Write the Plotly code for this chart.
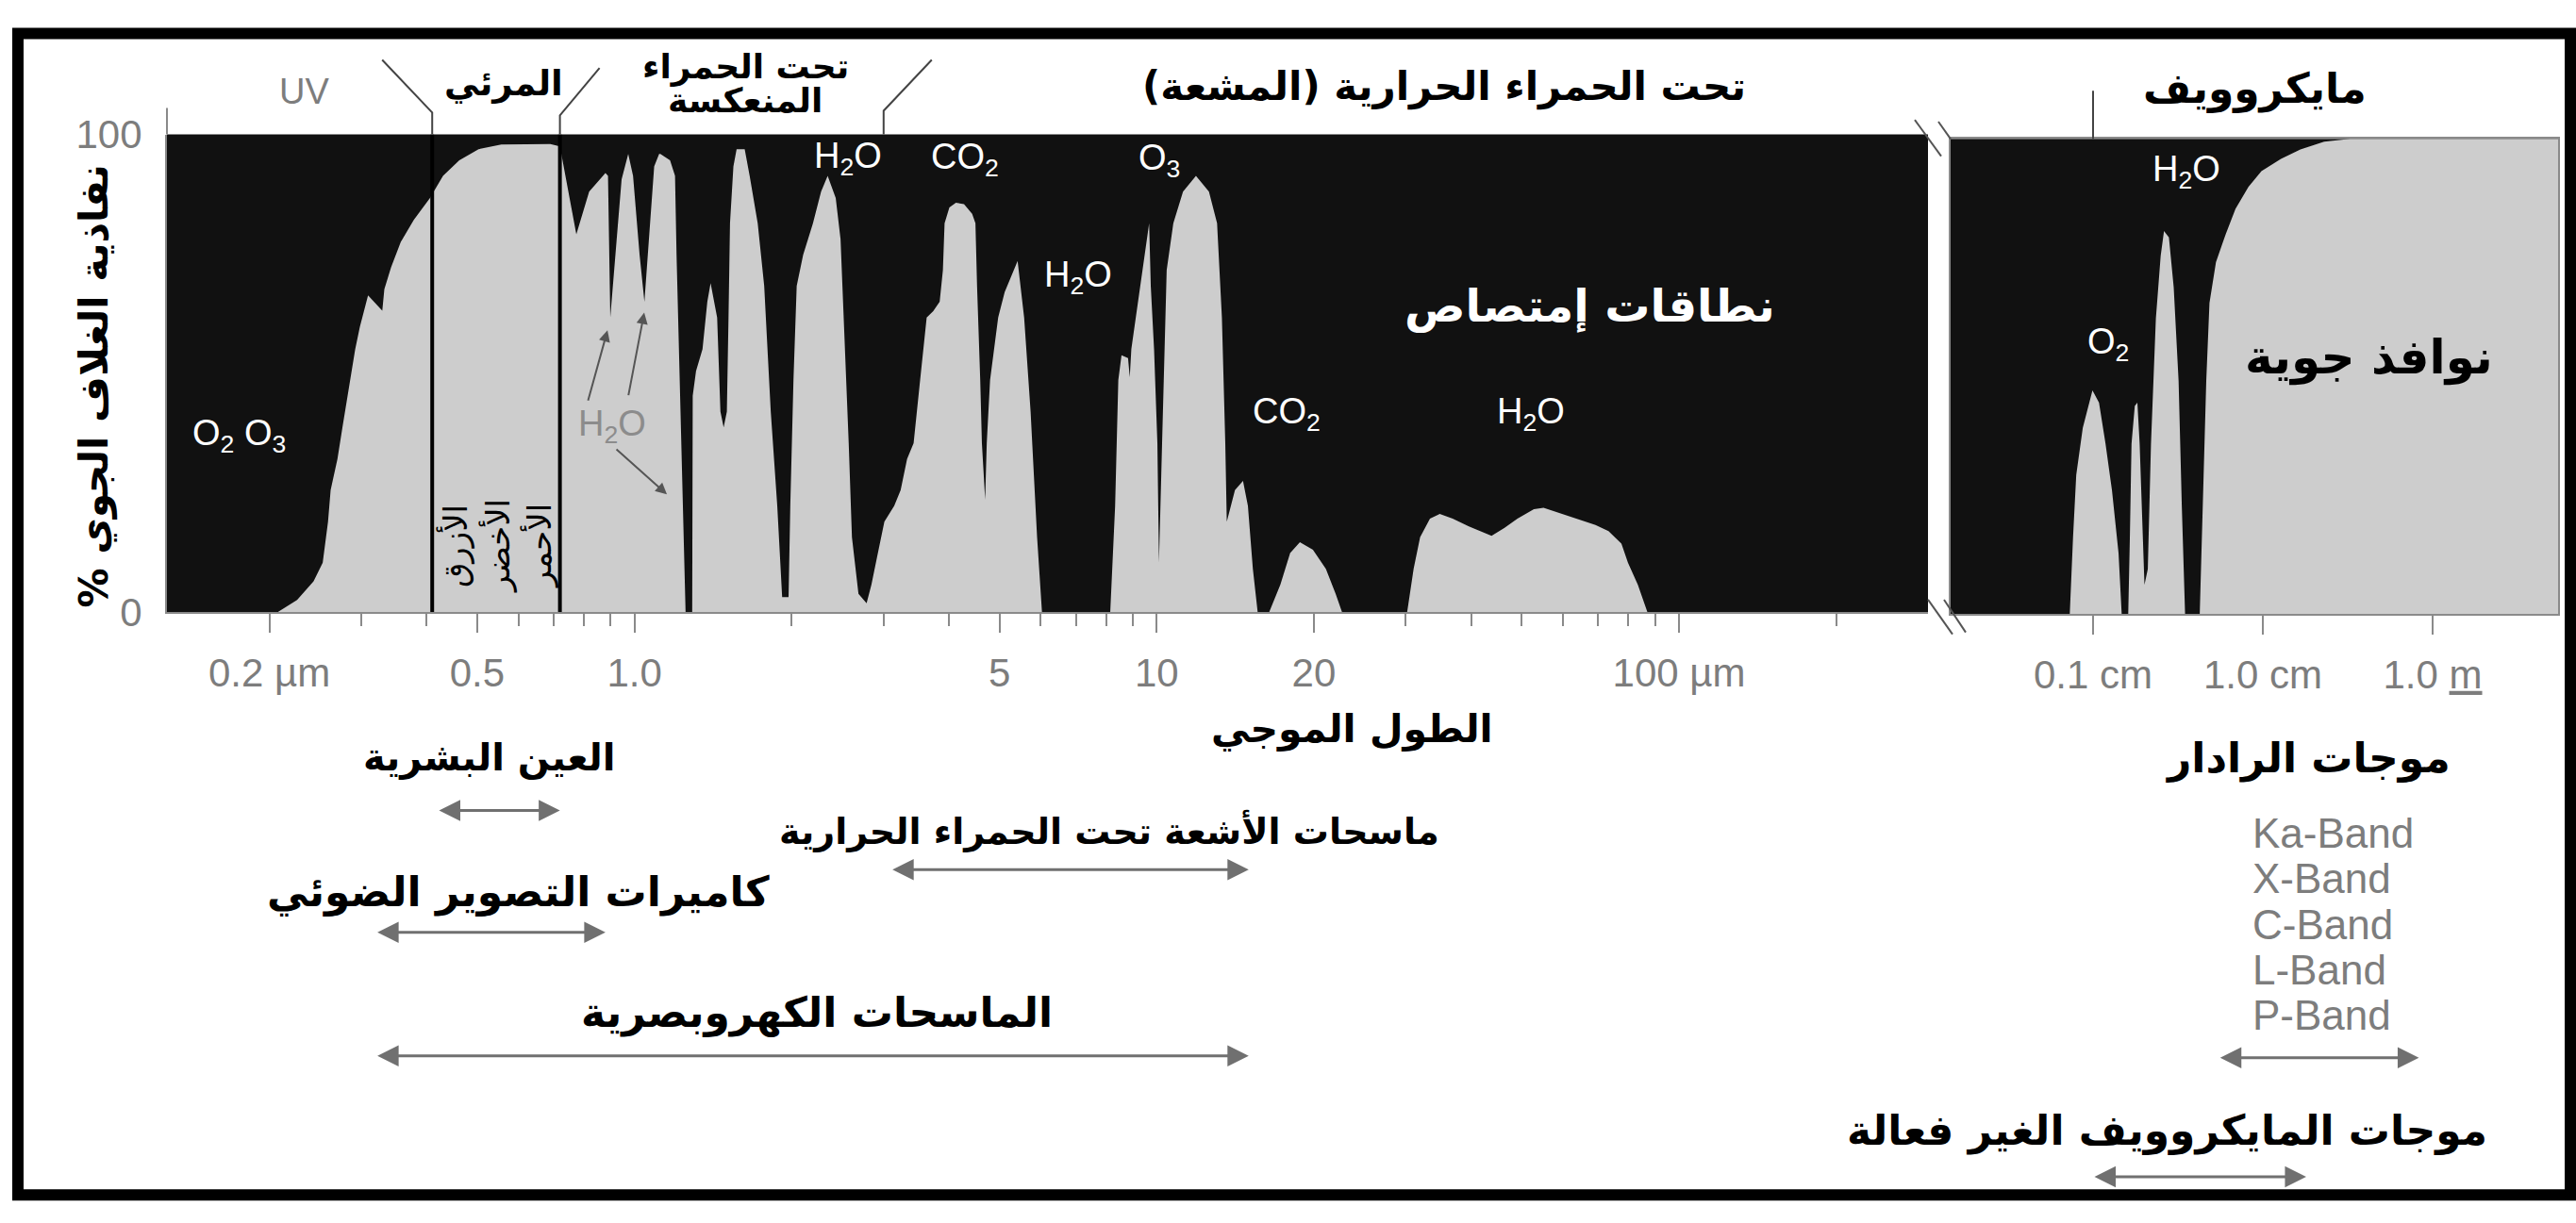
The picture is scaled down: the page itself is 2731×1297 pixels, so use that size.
import math
import plotly.graph_objects as go

W, H = 2731, 1297

# ---------------- data: atmospheric transmission (%) ----------------
# optical / infrared part, wavelength in micrometres
wl_um = [0.127, 0.207, 0.226, 0.243, 0.253, 0.259, 0.262, 0.270, 0.276, 0.282,
         0.292, 0.298, 0.309, 0.329, 0.332, 0.342, 0.357, 0.378, 0.406, 0.430,
         0.462, 0.503, 0.556, 0.690, 0.720,
         0.736, 0.774, 0.819, 0.880, 0.890, 0.899, 0.945, 0.973, 0.994, 1.023,
         1.045, 1.091, 1.115, 1.121, 1.170, 1.196, 1.204, 1.222, 1.239, 1.253,
         1.290, 1.293, 1.312, 1.350, 1.379, 1.399, 1.440, 1.461, 1.482, 1.503,
         1.514, 1.524, 1.547, 1.569, 1.626, 1.662, 1.722, 1.772, 1.824, 1.877,
         1.918, 1.973, 1.988, 2.016, 2.045, 2.104, 2.197, 2.277, 2.344, 2.429,
         2.481, 2.517, 2.572, 2.609, 2.685, 2.783, 2.843, 2.925, 3.010, 3.143,
         3.234, 3.327, 3.424, 3.524, 3.576, 3.627, 3.733, 3.841, 3.896, 3.925,
         4.009, 4.126, 4.276, 4.432, 4.497, 4.529, 4.593, 4.627, 4.694, 4.727,
         4.797, 4.971, 5.116, 5.264, 5.416, 5.574, 5.735, 5.902, 6.031, 8.147,
         8.325, 8.443, 8.563, 8.813, 8.880, 8.942, 9.203, 9.470, 9.672, 9.742,
         9.884, 10.03, 10.10, 10.24, 10.39, 10.45, 10.76, 11.23, 11.89, 12.59,
         13.05, 13.33, 13.53, 13.62, 14.12, 14.63, 14.95, 15.28, 15.61, 16.41,
         17.25, 18.01, 18.80, 19.91, 21.08, 22.01, 22.65, 30.16, 31.04, 31.94,
         33.36, 34.82, 36.87, 39.60, 43.77, 46.35, 49.07, 52.74, 55.05, 58.30,
         63.51, 69.21, 73.30, 77.59, 79.86, 83.40, 87.05, 300.0]
trans_um = [0, 0, 2.6, 6.5, 10.4, 19.0, 25.6, 32.1, 38.7, 45.3,
            55.1, 59.7, 66.3, 63.1, 67.6, 72.2, 77.5, 82.1, 86.7, 91.3,
            94.6, 96.9, 97.9, 98.0, 97.5,
            91.9, 79.1, 88.0, 91.9, 91.3, 61.7, 90.6, 95.9, 91.3, 74.8,
            65.0, 93.3, 95.9, 95.9, 94.6, 91.3, 74.8, 48.6, 22.3, 0,
            0, 45.3, 50.5, 55.1, 65.0, 68.9, 61.7, 42.0, 38.7, 42.0,
            61.7, 81.4, 93.3, 96.9, 96.9, 91.3, 81.4, 68.3, 42.0, 22.3,
            3.2, 3.2, 22.3, 48.6, 68.3, 74.8, 81.4, 88.0, 91.3, 86.7,
            78.1, 61.7, 35.4, 15.7, 3.9, 1.9, 5.8, 12.4, 19.0, 22.3,
            25.6, 32.1, 35.4, 48.6, 55.1, 61.7, 63.0, 65.0, 71.6, 81.4,
            84.7, 85.7, 85.4, 83.4, 81.4, 68.3, 48.6, 35.4, 23.6, 35.4,
            48.6, 61.7, 67.0, 70.2, 73.5, 61.7, 42.0, 15.7, 0, 0,
            22.3, 48.6, 53.8, 53.2, 49.2, 55.1, 65.0, 74.8, 81.4, 68.3,
            55.1, 35.4, 10.4, 35.4, 61.7, 71.6, 81.4, 88.0, 91.3, 88.0,
            81.4, 61.7, 35.4, 19.0, 25.6, 27.5, 22.3, 9.1, 0, 0,
            5.8, 12.4, 14.7, 13.1, 9.1, 3.9, 0, 0, 9.1, 15.7,
            19.6, 20.6, 19.6, 18.0, 16.0, 17.7, 19.6, 21.6, 21.9, 21.0,
            19.6, 18.3, 17.0, 14.4, 10.4, 5.8, 0, 0]

# microwave part, wavelength in centimetres
wl_cm = [0.0144, 0.0729, 0.0762, 0.0796, 0.0870, 0.0992, 0.1084, 0.1184, 0.1293, 0.1413,
         0.1475, 0.1611, 0.1647, 0.1685, 0.1761, 0.1824, 0.1881, 0.1965, 0.2008, 0.2101,
         0.2194, 0.2344, 0.2502, 0.2617, 0.2797, 0.2985, 0.3190, 0.3333, 0.3484, 0.4249,
         0.4437, 0.4642, 0.4849, 0.5296, 0.6047, 0.6901, 0.8222, 0.9810, 1.278, 1.664,
         2.297, 3.266, 55.0]
trans_cm = [0, 0, 16.1, 29.3, 39.2, 47.1, 44.5, 35.9, 26.0, 12.8,
            0, 0, 16.1, 35.9, 43.8, 44.5, 35.9, 16.1, 6.2, 9.5,
            35.9, 62.2, 75.4, 80.6, 79.3, 68.8, 49.1, 22.7, 0, 0,
            22.7, 49.1, 65.5, 74.1, 80.0, 85.3, 89.9, 93.2, 95.8, 97.8,
            99.4, 100, 100]

# axis ticks
um_tickvals = [0.2, 0.5, 1, 5, 10, 20, 100]
um_ticktext = ["0.2 µm", "0.5", "1.0", "5", "10", "20", "100 µm"]
um_minor = [0.3, 0.4, 0.6, 0.7, 0.8, 0.9, 2, 3, 4, 6, 7, 8, 9,
            30, 40, 50, 60, 70, 80, 90, 200]
cm_tickvals = [0.1, 1, 10]
cm_ticktext = ["0.1 cm", "1.0 cm", "1.0 <u>m</u>"]

# spectral region boundaries
VIS_START, VIS_END, TIR_START = 0.41, 0.72, 3.0   # µm
MW_START = 0.1                                    # cm

# sensor wavelength ranges
sensors_um = [("العين البشرية", 0.42, 0.72),
              ("ماسحات الأشعة تحت الحمراء الحرارية", 3.1, 15.0),
              ("كاميرات التصوير الضوئي", 0.32, 0.88),
              ("الماسحات الكهروبصرية", 0.32, 15.0)]
sensors_cm = [("موجات الرادار", 0.55, 8.3),
              ("موجات المايكروويف الغير فعالة", 0.1, 1.8)]
radar_bands = ["Ka-Band", "X-Band", "C-Band", "L-Band", "P-Band"]

# ---------------- geometry ----------------
LX0, LX1 = 177, 2044
RX0, RX1 = 2068, 2712
LYB, LYT = 650, 124
RYB, RYT = 652, 129
L_RANGE = [-0.8951, 2.4768]
R_RANGE = [-1.8389, 1.7389]

ARABIC = "DejaVu Sans"
LATIN = "Liberation Sans"
GRAY_TXT = "#7d7d7d"
AX_GRAY = "#8a8a8a"
BLACK_BG = "#111111"
FILL = "#cdcdcd"
ARROW = "#707070"


def X(px):
    return px / W


def Y(py):
    return 1 - py / H


def ar(s):
    return "\u200f" + s + "\u200f"


def lpx(wl):
    return LX0 + (math.log10(wl) - L_RANGE[0]) / (L_RANGE[1] - L_RANGE[0]) * (LX1 - LX0)


def rpx(cm):
    return RX0 + (math.log10(cm) - R_RANGE[0]) / (R_RANGE[1] - R_RANGE[0]) * (RX1 - RX0)


fig = go.Figure()

fig.add_trace(go.Scatter(x=wl_um, y=trans_um, mode="lines", fill="tozeroy",
                         fillcolor=FILL, line=dict(width=0, color=FILL),
                         xaxis="x", yaxis="y", hoverinfo="skip", showlegend=False))
fig.add_trace(go.Scatter(x=wl_cm, y=trans_cm, mode="lines", fill="tozeroy",
                         fillcolor=FILL, line=dict(width=0, color=FILL),
                         xaxis="x2", yaxis="y2", hoverinfo="skip", showlegend=False))
for edge in (VIS_START, VIS_END):
    fig.add_trace(go.Scatter(x=[edge, edge], y=[0, 100], mode="lines",
                             line=dict(color="black", width=4),
                             xaxis="x", yaxis="y", hoverinfo="skip", showlegend=False))

axis_common = dict(showgrid=False, zeroline=False, fixedrange=True)
fig.update_layout(
    width=W, height=H, margin=dict(l=0, r=0, t=0, b=0),
    paper_bgcolor="white", plot_bgcolor=BLACK_BG, showlegend=False,
    xaxis=dict(domain=[X(LX0), X(LX1)], type="log", range=L_RANGE, anchor="y",
               tickmode="array", tickvals=um_tickvals, ticktext=um_ticktext,
               ticks="outside", ticklen=20, tickwidth=2, tickcolor=AX_GRAY,
               showline=True, linecolor=AX_GRAY, linewidth=2,
               tickfont=dict(family=LATIN, size=42, color=GRAY_TXT),
               ticklabelstandoff=6,
               minor=dict(tickmode="array", tickvals=um_minor, ticks="outside",
                          ticklen=13, tickwidth=2, tickcolor=AX_GRAY, showgrid=False),
               **axis_common),
    yaxis=dict(domain=[Y(LYB), Y(LYT)], range=[0, 100], anchor="x",
               tickmode="array", tickvals=[0, 100], ticktext=["0", "100"],
               ticks="", showline=True, linecolor=AX_GRAY, linewidth=2,
               tickfont=dict(family=LATIN, size=42, color=GRAY_TXT),
               ticklabelstandoff=16, **axis_common),
    xaxis2=dict(domain=[X(RX0), X(RX1)], type="log", range=R_RANGE, anchor="y2",
                tickmode="array", tickvals=cm_tickvals, ticktext=cm_ticktext,
                ticks="outside", ticklen=20, tickwidth=2, tickcolor=AX_GRAY,
                showline=True, linecolor=AX_GRAY, linewidth=2, mirror=True,
                tickfont=dict(family=LATIN, size=42, color=GRAY_TXT),
                ticklabelstandoff=6, **axis_common),
    yaxis2=dict(domain=[Y(RYB), Y(RYT)], range=[0, 100], anchor="x2",
                showticklabels=False, ticks="", showline=True, mirror=True,
                linecolor=AX_GRAY, linewidth=2, **axis_common),
)

# ---------------- decorative shapes ----------------
shapes = []
# outer frame
shapes.append(dict(type="rect", xref="paper", yref="paper",
                   x0=X(19), y0=Y(13), x1=X(2725), y1=Y(1291),
                   line=dict(color="black", width=12), fillcolor="rgba(0,0,0,0)"))


def path(points):
    return "M " + " L ".join(f"{X(a):.5f},{Y(b):.5f}" for a, b in points)


lead = dict(type="path", xref="paper", yref="paper", line=dict(color="#444444", width=2))
xa, xb, xc = lpx(VIS_START), lpx(VIS_END), lpx(TIR_START)
shapes.append(dict(lead, path=path([(xa - 53, 42), (xa, 100), (xa, LYT)])))
shapes.append(dict(lead, path=path([(xb + 42, 51), (xb, 103), (xb, LYT)])))
shapes.append(dict(lead, path=path([(xc + 51, 42), (xc, 98), (xc, LYT)])))
xd = rpx(MW_START)
shapes.append(dict(lead, path=path([(xd, 76), (xd, RYT)])))
# y axis line extension above the panel
shapes.append(dict(type="line", xref="paper", yref="paper", x0=X(LX0), x1=X(LX0),
                   y0=Y(95), y1=Y(LYT), line=dict(color=AX_GRAY, width=2)))
# axis break marks
brk = dict(type="line", xref="paper", yref="paper", line=dict(color="#555555", width=2))
for (a, b, c, d) in [(2030, 108, 2058, 148), (2055, 110, 2068, 129),
                     (2044, 636, 2070, 674), (2061, 636, 2084, 672)]:
    shapes.append(dict(brk, x0=X(a), y0=Y(b), x1=X(c), y1=Y(d)))
fig.update_layout(shapes=shapes)


# ---------------- text ----------------
def txt(text, px, py, size, color="black", family=ARABIC, bold=False, angle=0,
        xanchor="center"):
    t = "<b>" + text + "</b>" if bold else text
    fig.add_annotation(text=t, x=X(px), y=Y(py), xref="paper", yref="paper",
                       showarrow=False, textangle=angle, xanchor=xanchor,
                       yanchor="middle", font=dict(family=family, size=size, color=color))


# region headings
txt("UV", 322, 77, 38, color=GRAY_TXT, family=LATIN)
txt(ar("المرئي"), 534, 68, 37, bold=True)
txt(ar("تحت الحمراء"), 790, 50, 36, bold=True)
txt(ar("المنعكسة"), 790, 87, 36, bold=True)
txt(ar("تحت الحمراء الحرارية (المشعة)"), 1531, 72, 42, bold=True)
txt(ar("مايكروويف"), 2390, 74, 44, bold=True)

# y-axis title
txt(ar("نفاذية الغلاف الجوي %"), 100, 401, 42, bold=True, angle=-90)

# absorbers
WHITE = "white"
txt("O<sub>2</sub> O<sub>3</sub>", 254, 455, 38, color=WHITE, family=LATIN)
txt("H<sub>2</sub>O", 649, 445, 38, color="#8c8c8c", family=LATIN)
txt("H<sub>2</sub>O", 899, 150, 38, color=WHITE, family=LATIN)
txt("CO<sub>2</sub>", 1023, 152, 38, color=WHITE, family=LATIN)
txt("H<sub>2</sub>O", 1143, 281, 38, color=WHITE, family=LATIN)
txt("O<sub>3</sub>", 1229, 153, 38, color=WHITE, family=LATIN)
txt("CO<sub>2</sub>", 1364, 432, 38, color=WHITE, family=LATIN)
txt("H<sub>2</sub>O", 1623, 432, 38, color=WHITE, family=LATIN)
txt("H<sub>2</sub>O", 2318, 165, 38, color=WHITE, family=LATIN)
txt("O<sub>2</sub>", 2235, 355, 38, color=WHITE, family=LATIN)

txt(ar("نطاقات إمتصاص"), 1685, 313, 48, color=WHITE, bold=True)
txt(ar("نوافذ جوية"), 2511, 370, 50, bold=True)

# colour names inside the visible band (vertical, reading top to bottom)
for name, px in (("الأزرق", 482), ("الأخضر", 528), ("الأحمر", 572)):
    txt(ar(name), px, 577, 34, angle=-90)

# arrows from the NIR water-vapour label
for wl, t, dx, dy in ((0.888, 59.0, -21, 76), (1.044, 62.7, -17, 89), (1.154, 24.7, -55, -49)):
    fig.add_annotation(x=math.log10(wl), y=t, xref="x", yref="y", text="",
                       showarrow=True, ax=dx, ay=dy, arrowhead=2, arrowsize=1.2,
                       arrowwidth=2, arrowcolor="#555555")

# wavelength axis title
txt(ar("الطول الموجي"), 1433, 778, 41, bold=True)

# sensors
label_pos_um = [(518, 810, 40), (1176, 890, 38), (549, 958, 44), (866, 1090, 44)]
arrow_row_um = [868, 933, 1002, 1138]
for (name, lo, hi), (tx, ty, fs), row in zip(sensors_um, label_pos_um, arrow_row_um):
    txt(ar(name), tx, ty, fs, bold=True)
    fig.add_annotation(x=math.log10(hi), y=Y(row), xref="x", yref="paper",
                       ax=math.log10(lo), ay=0, axref="x", ayref="pixel",
                       text="", showarrow=True, arrowside="end+start",
                       arrowhead=2, arrowsize=1.5, arrowwidth=3, arrowcolor=ARROW)

label_pos_cm = [(2447, 810, 44), (2297, 1220, 44)]
arrow_row_cm = [1140, 1271]
for (name, lo, hi), (tx, ty, fs), row in zip(sensors_cm, label_pos_cm, arrow_row_cm):
    txt(ar(name), tx, ty, fs, bold=True)
    fig.add_annotation(x=math.log10(hi), y=Y(row), xref="x2", yref="paper",
                       ax=math.log10(lo), ay=0, axref="x2", ayref="pixel",
                       text="", showarrow=True, arrowside="end+start",
                       arrowhead=2, arrowsize=1.5, arrowwidth=3, arrowcolor=ARROW)

for i, band in enumerate(radar_bands):
    txt(band, 2386, 893 + i * 50, 44, color=GRAY_TXT, family=LATIN, xanchor="left")

fig.write_html("out.html", config={"displayModeBar": False},
               post_script="document.body.style.margin='0';document.body.style.overflow='hidden';")
